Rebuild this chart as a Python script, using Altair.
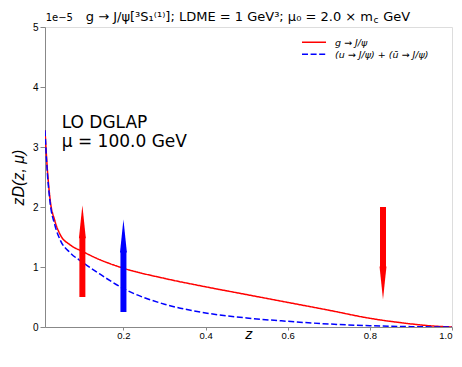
import altair as alt
import pandas as pd

# ---- data ----
z_vals = [0.009, 0.013, 0.021, 0.033, 0.046, 0.07, 0.1, 0.143, 0.2, 0.3, 0.4, 0.5, 0.6, 0.7, 0.8, 0.9, 0.95, 1.0]
gluon_vals = [3.28, 2.8, 2.15, 1.77, 1.54, 1.37, 1.26, 1.12, 0.98, 0.81, 0.67, 0.54, 0.41, 0.28, 0.145, 0.052, 0.018, 0.0]
quark_vals = [3.28, 2.75, 2.1, 1.70, 1.45, 1.24, 1.08, 0.88, 0.64, 0.38, 0.235, 0.15, 0.095, 0.05, 0.022, 0.006, 0.002, 0.0]
series_labels = ["g → J/ψ", "(u → J/ψ) + (ū → J/ψ)"]
series_colors = ["#ff0000", "#0000ff"]
series_dashes = [[1, 0], [6, 2.6]]

arrow_z = [0.1, 0.2, 0.832]
arrow_start = [0.5, 0.25, 2.0]
arrow_tip = [2.03, 1.79, 0.46]
arrow_colors = ["#ff0000", "#0000ff", "#ff0000"]

x_ticks = [0.2, 0.4, 0.6, 0.8, 1.0]
y_ticks = [0, 1, 2, 3, 4, 5]

FONT = "DejaVu Sans"
W, H = 407, 300
Y_MAX = 5.0
HEAD_PX = 33.0
head_data = HEAD_PX / H * Y_MAX

rows = []
for lab, vals in zip(series_labels, [gluon_vals, quark_vals]):
    for zz, v in zip(z_vals, vals):
        rows.append({"z": zz, "D": v, "series": lab})
curves = pd.DataFrame(rows)

arr_rows = []
for zz, s, t, c in zip(arrow_z, arrow_start, arrow_tip, arrow_colors):
    sign = 1 if t > s else -1
    arr_rows.append({
        "z": zz, "y0": s, "y1": t - sign * head_data * 0.95,
        "yh": t - sign * head_data / 2, "dir": "up" if sign > 0 else "down", "color": c,
    })
arrows = pd.DataFrame(arr_rows)

xs = alt.Scale(domain=[0.009, 1.0], nice=False, zero=False)
ys = alt.Scale(domain=[0, Y_MAX], nice=False)

lines = alt.Chart(curves).mark_line(strokeWidth=1.5, interpolate="monotone", clip=True).encode(
    x=alt.X("z:Q", scale=xs,
            axis=alt.Axis(values=x_ticks, format=".1f", title="z", titleFontStyle="italic", grid=False,
                          titleFontWeight="normal", titleFontSize=15, titleBaseline="alphabetic",
                          titleY=11, tickSize=3, labelPadding=0, labelFontSize=9.5)),
    y=alt.Y("D:Q", scale=ys,
            axis=alt.Axis(values=y_ticks, format="d", title="zD(z, μ)", titleFontStyle="italic", grid=False,
                          titleFontWeight="normal", titleFontSize=16, titlePadding=6)),
    color=alt.Color("series:N", scale=alt.Scale(domain=series_labels, range=series_colors), legend=None),
    strokeDash=alt.StrokeDash("series:N", scale=alt.Scale(domain=series_labels, range=series_dashes), legend=None),
)

shafts = alt.Chart(arrows).mark_rule(strokeWidth=6, strokeCap="butt").encode(
    x=alt.X("z:Q", scale=xs), y=alt.Y("y0:Q", scale=ys), y2="y1:Q",
    color=alt.Color("color:N", scale=None),
)
heads = alt.Chart(arrows).mark_point(filled=True, opacity=1, size=HEAD_PX ** 2, strokeWidth=0).encode(
    x=alt.X("z:Q", scale=xs), y=alt.Y("yh:Q", scale=ys),
    color=alt.Color("color:N", scale=None),
    shape=alt.Shape("dir:N", scale=alt.Scale(domain=["up", "down"],
                                              range=["M0,-1L0.21,1L-0.21,1Z", "M0,1L0.21,-1L-0.21,-1Z"]),
                    legend=None),
)

# manual legend
leg_df = pd.DataFrame({"series": series_labels, "row": [0, 1]})
leg_y = [15.3, 27.3]
leg_lines = []
leg_texts = []
for i, lab in enumerate(series_labels):
    d = leg_df[leg_df.row == i]
    leg_lines.append(alt.Chart(d).mark_rule(strokeWidth=1.5, strokeDash=series_dashes[i], color=series_colors[i]).encode(
        x=alt.value(257), x2=alt.value(281), y=alt.value(leg_y[i])))
    leg_texts.append(alt.Chart(d).mark_text(align="left", baseline="middle", font=FONT, fontSize=9.5,
                                           fontStyle="italic", color="black").encode(
        x=alt.value(290), y=alt.value(leg_y[i] + 0.5), text="series:N"))

info_df = pd.DataFrame({"t": ["LO DGLAP", "μ = 100.0 GeV"], "yy": [101.3, 119.7]})
info = alt.Chart(info_df).mark_text(align="left", baseline="alphabetic", font=FONT, fontSize=17, color="black").encode(
    x=alt.value(16.7), y=alt.Y("yy:Q", scale=None), text="t:N")

title_parts = pd.DataFrame({
    "t": ["g → J/ψ[³S₁⁽¹⁾]; LDME = 1 GeV³; μ₀ = 2.0 × m", "c", "GeV", "1e−5"],
    "xx": [328.0, 328.5, 338.3, 0.7],
    "yy": [-6.5, -4.0, -6.5, -6.5],
    "fs": [13.0, 9.0, 13.0, 10.0],
    "al": ["right", "left", "left", "left"],
})
title_layers = []
for _, r in title_parts.iterrows():
    title_layers.append(alt.Chart(pd.DataFrame([r])).mark_text(
        align=r["al"], baseline="alphabetic", font=FONT, fontSize=float(r["fs"]), color="black").encode(
        x=alt.value(float(r["xx"])), y=alt.value(float(r["yy"])), text="t:N"))

chart = alt.layer(lines, shafts, heads, info, *leg_lines, *leg_texts, *title_layers).properties(
    width=W, height=H,
    autosize=alt.AutoSizeParams(type="none"),
    padding={"left": 37, "top": 19, "right": 2, "bottom": 13},
).configure_view(stroke="black", strokeWidth=1).configure_axis(
    grid=False, domainColor="black", domainWidth=1, tickColor="black", tickSize=4, tickWidth=1,
    labelFont=FONT, labelFontSize=10, labelColor="black", labelPadding=3,
    titleFont=FONT, titleColor="black",
).configure(background="white")

chart.save("out.html", embed_options={"renderer": "svg", "actions": False})
